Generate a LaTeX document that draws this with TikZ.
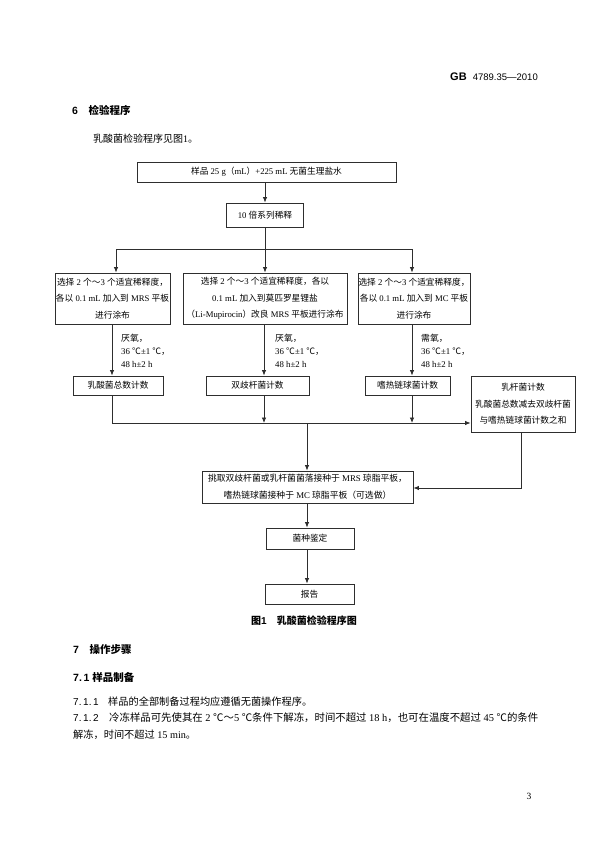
\documentclass[tikz,border=0pt]{standalone}
\usepackage{fontspec}
\setmainfont{Liberation Serif}
\setsansfont{Liberation Sans}
\newfontfamily\cjk{Noto Sans CJK SC}
\usetikzlibrary{arrows.meta}
\XeTeXinterchartokenstate=1
\newXeTeXintercharclass\CJKcls
\newcount\cjkcnt
\def\setcjkrange#1#2{\cjkcnt=#1\relax\loop\XeTeXcharclass\cjkcnt=\CJKcls\relax\ifnum\cjkcnt<#2\relax\advance\cjkcnt by 1\relax\repeat}
\setcjkrange{"3000}{"303F}
\setcjkrange{"4E00}{"9FFF}
\setcjkrange{"FF00}{"FFEF}
\XeTeXcharclass"2103=\CJKcls
\XeTeXinterchartoks 0 \CJKcls = {\begingroup\cjk}
\XeTeXinterchartoks 4095 \CJKcls = {\begingroup\cjk}
\XeTeXinterchartoks \CJKcls 0 = {\endgroup}
\XeTeXinterchartoks \CJKcls 4095 = {\endgroup}
\definecolor{linec}{HTML}{2E2E2E}
\begin{document}
\begin{tikzpicture}[x=1pt,y=-1pt,
  box/.style={draw=linec, line width=0.9pt, inner sep=0pt, align=center,
    font=\fontsize{8.7}{16.5}\selectfont},
  conn/.style={draw=linec, line width=0.8pt},
  arr/.style={conn, -{Latex[length=5.5pt,width=4.5pt]}},
  lab/.style={anchor=west, inner sep=0pt, align=left, font=\fontsize{8.8}{13}\selectfont},
  body/.style={anchor=base west, inner sep=0pt, font=\fontsize{10.2}{12}\selectfont},
  head/.style={anchor=base west, inner sep=0pt, font=\fontsize{10.5}{12}\selectfont\sffamily\bfseries}]
\useasboundingbox[fill=white] (0,0) rectangle (595,842);

% page texts
\node[anchor=base east, inner sep=0pt] (hdr) at (538,81)
  {\sffamily\bfseries\fontsize{11}{12}\selectfont GB\ \ \mdseries\fontsize{9.5}{12}\selectfont 4789.35—2010};
\node[head] (s6) at (72,115) {6\quad 检验程序};
\node[body, font=\fontsize{10}{12}\selectfont] (intro) at (93,143) {乳酸菌检验程序见图1。};

% flowchart boxes
\node[box, minimum width=259pt, minimum height=20pt] (b1) at (266.5,172) {样品 25 g（mL）+225 mL 无菌生理盐水};
\node[box, minimum width=77pt, minimum height=24pt] (b2) at (265,215) {10 倍系列稀释};

\node[box, minimum width=115pt, minimum height=51pt] (bA) at (112.5,298.5)
  {选择 2 个～3 个适宜稀释度，\\各以 0.1 mL 加入到 MRS 平板\\进行涂布};
\node[box, minimum width=164pt, minimum height=51pt] (bB) at (265,298.5)
  {选择 2 个～3 个适宜稀释度，各以\\0.1 mL 加入到莫匹罗星锂盐\\（Li-Mupirocin）改良 MRS 平板进行涂布};
\node[box, minimum width=112pt, minimum height=51pt] (bC) at (414,298.5)
  {选择 2 个～3 个适宜稀释度，\\各以 0.1 mL 加入到 MC 平板\\进行涂布};

\node[lab] (lA) at (121,351) {厌氧，\\36 ℃±1 ℃，\\48 h±2 h};
\node[lab] (lB) at (275,351) {厌氧，\\36 ℃±1 ℃，\\48 h±2 h};
\node[lab] (lC) at (421,351) {需氧，\\36 ℃±1 ℃，\\48 h±2 h};

\node[box, minimum width=90pt, minimum height=19pt] (cA) at (118,385.5) {乳酸菌总数计数};
\node[box, minimum width=103pt, minimum height=19pt] (cB) at (257.5,385.5) {双歧杆菌计数};
\node[box, minimum width=85pt, minimum height=19pt] (cC) at (407.5,385.5) {嗜热链球菌计数};
\node[box, minimum width=104pt, minimum height=56pt] (bL) at (523,404)
  {乳杆菌计数\\乳酸菌总数减去双歧杆菌\\与嗜热链球菌计数之和};

\node[box, minimum width=211pt, minimum height=32pt, font=\fontsize{8.8}{17}\selectfont] (bP) at (307.5,487)
  {挑取双歧杆菌或乳杆菌菌落接种于 MRS 琼脂平板，\\嗜热链球菌接种于 MC 琼脂平板（可选做）};
\node[box, minimum width=88pt, minimum height=21pt] (bJ) at (310,538.5) {菌种鉴定};
\node[box, minimum width=89pt, minimum height=20pt] (bR) at (309.5,594) {报告};

% connectors
\coordinate (sp) at (265,249);
\coordinate (spL) at (116,249);
\coordinate (spR) at (412,249);
\coordinate (jl) at (112,423);
\coordinate (jB) at (264,423);
\coordinate (jC) at (412,423);
\coordinate (jm) at (307,423);
\coordinate (jr) at (521,488);

\draw[arr] (b2.north |- b1.south) -- (b2.north);
\draw[conn] (b2.south) -- (sp);
\draw[conn] (spL) -- (spR);
\draw[arr] (spL) -- (spL |- bA.north);
\draw[arr] (sp) -- (bB.north);
\draw[arr] (spR) -- (spR |- bC.north);

\draw[arr] (jl |- bA.south) -- (jl |- cA.north);
\draw[arr] (jB |- bB.south) -- (jB |- cB.north);
\draw[arr] (jC |- bC.south) -- (jC |- cC.north);

\draw[arr] (jl |- cA.south) -- (jl) -- (jl -| bL.west);
\draw[arr] (jB |- cB.south) -- (jB);
\draw[arr] (jC |- cC.south) -- (jC);
\draw[arr] (jm) -- (jm |- bP.north);
\draw[arr] (jr |- bL.south) -- (jr) -- (jr -| bP.east);
\draw[arr] (jm |- bP.south) -- (jm |- bJ.north);
\draw[arr] (jm |- bJ.south) -- (jm |- bR.north);

% caption and following text
\node[anchor=base, inner sep=0pt, font=\fontsize{10}{12}\selectfont\sffamily\bfseries] (cap) at (304,624) {图1\quad 乳酸菌检验程序图};
\node[head] (s7) at (73,653) {7\quad 操作步骤};
\node[head] (s71) at (73,681) {7.\,1 样品制备};
\node[body, font=\fontsize{10}{12}\selectfont\sffamily] (n711) at (73,705) {7.\,1.\,1};
\node[body] (t711) at (108,705) {样品的全部制备过程均应遵循无菌操作程序。};
\node[body, font=\fontsize{10}{12}\selectfont\sffamily] (n712) at (73,721) {7.\,1.\,2};
\node[body, font=\fontsize{10.4}{12}\selectfont] (t712) at (109,721) {冷冻样品可先使其在 2 ℃～5 ℃条件下解冻，时间不超过 18 h，也可在温度不超过 45 ℃的条件};
\node[body] (t712b) at (73,738) {解冻，时间不超过 15 min。};
\node[anchor=base, inner sep=0pt, font=\fontsize{9.5}{12}\selectfont] (pg) at (529,799) {3};
\end{tikzpicture}
\end{document}
